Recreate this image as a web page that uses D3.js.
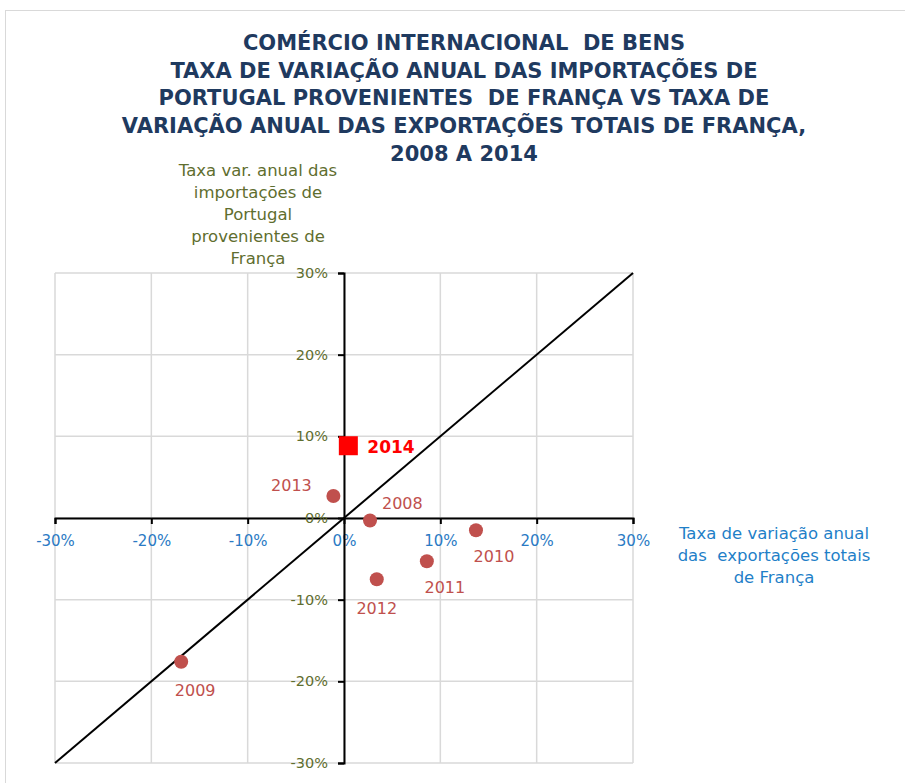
<!DOCTYPE html>
<html>
<head>
<meta charset="utf-8">
<script src="https://cdn.jsdelivr.net/npm/d3@7"></script>
<style>
  body { margin: 0; background: #fff; }
  svg { display: block; }
  text { white-space: pre; }
</style>
</head>
<body>
<div id="chart"></div>
<script>
// data (annual rates, as fractions)
var years = ["2008", "2009", "2010", "2011", "2012", "2013", "2014"];
var exportsFrance = [0.027, -0.169, 0.137, 0.086, 0.034, -0.011, 0.0045];
var importsPortugal = [-0.003, -0.176, -0.015, -0.053, -0.075, 0.027, 0.0885];
var tickValues = [-0.3, -0.2, -0.1, 0, 0.1, 0.2, 0.3];

var titleLines = [
  "COMÉRCIO INTERNACIONAL  DE BENS",
  "TAXA DE VARIAÇÃO ANUAL DAS IMPORTAÇÕES DE",
  "PORTUGAL PROVENIENTES  DE FRANÇA VS TAXA DE",
  "VARIAÇÃO ANUAL DAS EXPORTAÇÕES TOTAIS DE FRANÇA,",
  "2008 A 2014"
];
var yTitleLines = ["Taxa var. anual das", "importações de", "Portugal", "provenientes de", "França"];
var xTitleLines = ["Taxa de variação anual", "das  exportações totais", "de França"];

var W = 905, H = 783;
var font = "'DejaVu Sans', Verdana, sans-serif";
var pct = function(d) { return Math.round(d * 100) + "%"; };

var svg = d3.select("#chart")
  .append("svg")
    .attr("width", W)
    .attr("height", H);

// outer frame
svg.append("rect")
  .attr("x", 5.5).attr("y", 10.5)
  .attr("width", W).attr("height", H)
  .style("fill", "none")
  .style("stroke", "#d9d9d9");

var x = d3.scaleLinear().domain([-0.3, 0.3]).range([55, 633]);
var y = d3.scaleLinear().domain([-0.3, 0.3]).range([763, 273]);

// grid
svg.append("g")
  .selectAll("line")
  .data(tickValues)
  .enter().append("line")
    .attr("x1", function(d) { return x(d); })
    .attr("x2", function(d) { return x(d); })
    .attr("y1", y(0.3)).attr("y2", y(-0.3))
    .style("stroke", "#d9d9d9").style("stroke-width", 1.5);
svg.append("g")
  .selectAll("line")
  .data(tickValues)
  .enter().append("line")
    .attr("y1", function(d) { return y(d); })
    .attr("y2", function(d) { return y(d); })
    .attr("x1", x(-0.3)).attr("x2", x(0.3))
    .style("stroke", "#d9d9d9").style("stroke-width", 1.5);

// axes through zero
var xAxis = svg.append("g")
  .attr("transform", "translate(0," + y(0) + ")")
  .call(d3.axisBottom(x).tickValues(tickValues).tickFormat(pct)
    .tickSizeOuter(0).tickSize(6).tickPadding(11));
xAxis.selectAll("text")
  .style("fill", "#2a7ac4").style("font-family", font).style("font-size", "15px");

var yAxis = svg.append("g")
  .attr("transform", "translate(" + x(0) + ",0)")
  .call(d3.axisLeft(y).tickValues(tickValues).tickFormat(pct)
    .tickSizeOuter(0).tickSize(6).tickPadding(10));
yAxis.selectAll("text")
  .style("fill", "#5f6e2f").style("font-family", font).style("font-size", "14.5px");

svg.selectAll(".domain, .tick line")
  .style("stroke", "#000").style("stroke-width", 2);

// 45 degree line
svg.append("line")
  .attr("x1", x(-0.3)).attr("y1", y(-0.3))
  .attr("x2", x(0.3)).attr("y2", y(0.3))
  .style("stroke", "#000").style("stroke-width", 2);

var data = years.map(function(d, i) {
  return { year: d, ex: exportsFrance[i], im: importsPortugal[i] };
});
var past = data.filter(function(d) { return d.year !== "2014"; });
var last = data.filter(function(d) { return d.year === "2014"; });

// label offsets relative to the point
var labelPos = {
  "2008": [12, -17, "start"],
  "2009": [14, 29, "middle"],
  "2010": [18, 26, "middle"],
  "2011": [18, 26, "middle"],
  "2012": [0, 29, "middle"],
  "2013": [-42, -11, "middle"]
};

svg.append("g")
  .selectAll("circle")
  .data(past)
  .enter().append("circle")
    .attr("cx", function(d) { return x(d.ex); })
    .attr("cy", function(d) { return y(d.im); })
    .attr("r", 7)
    .attr("fill", "#c0504d");

svg.append("g")
  .selectAll("text")
  .data(past)
  .enter().append("text")
    .attr("x", function(d) { return x(d.ex) + labelPos[d.year][0]; })
    .attr("y", function(d) { return y(d.im) + labelPos[d.year][1]; })
    .attr("dy", "0.35em")
    .attr("text-anchor", function(d) { return labelPos[d.year][2]; })
    .style("fill", "#c0504d")
    .style("font-family", font)
    .style("font-size", "16px")
    .text(function(d) { return d.year; });

svg.append("g")
  .selectAll("rect")
  .data(last)
  .enter().append("rect")
    .attr("x", function(d) { return x(d.ex) - 9.5; })
    .attr("y", function(d) { return y(d.im) - 9.5; })
    .attr("width", 19).attr("height", 19)
    .attr("fill", "#ff0000");

svg.append("g")
  .selectAll("text")
  .data(last)
  .enter().append("text")
    .attr("x", function(d) { return x(d.ex) + 19; })
    .attr("y", function(d) { return y(d.im) + 1; })
    .attr("dy", "0.35em")
    .style("fill", "#ff0000")
    .style("font-family", font)
    .style("font-size", "17px")
    .style("font-weight", "bold")
    .text(function(d) { return d.year; });

// title
svg.append("g")
  .selectAll("text")
  .data(titleLines)
  .enter().append("text")
    .attr("x", 464)
    .attr("y", function(d, i) { return 50 + i * 27.7; })
    .attr("text-anchor", "middle")
    .style("fill", "#1f3a5f")
    .style("font-family", font)
    .style("font-size", "21px")
    .style("font-weight", "bold")
    .text(function(d) { return d; });

// axis titles
svg.append("g")
  .selectAll("text")
  .data(yTitleLines)
  .enter().append("text")
    .attr("x", 258)
    .attr("y", function(d, i) { return 176 + i * 22; })
    .attr("text-anchor", "middle")
    .style("fill", "#5f6e2f")
    .style("font-family", font)
    .style("font-size", "16.5px")
    .text(function(d) { return d; });

svg.append("g")
  .selectAll("text")
  .data(xTitleLines)
  .enter().append("text")
    .attr("x", 774)
    .attr("y", function(d, i) { return 539 + i * 22; })
    .attr("text-anchor", "middle")
    .style("fill", "#1f7fc8")
    .style("font-family", font)
    .style("font-size", "16.5px")
    .text(function(d) { return d; });
</script>
</body>
</html>
